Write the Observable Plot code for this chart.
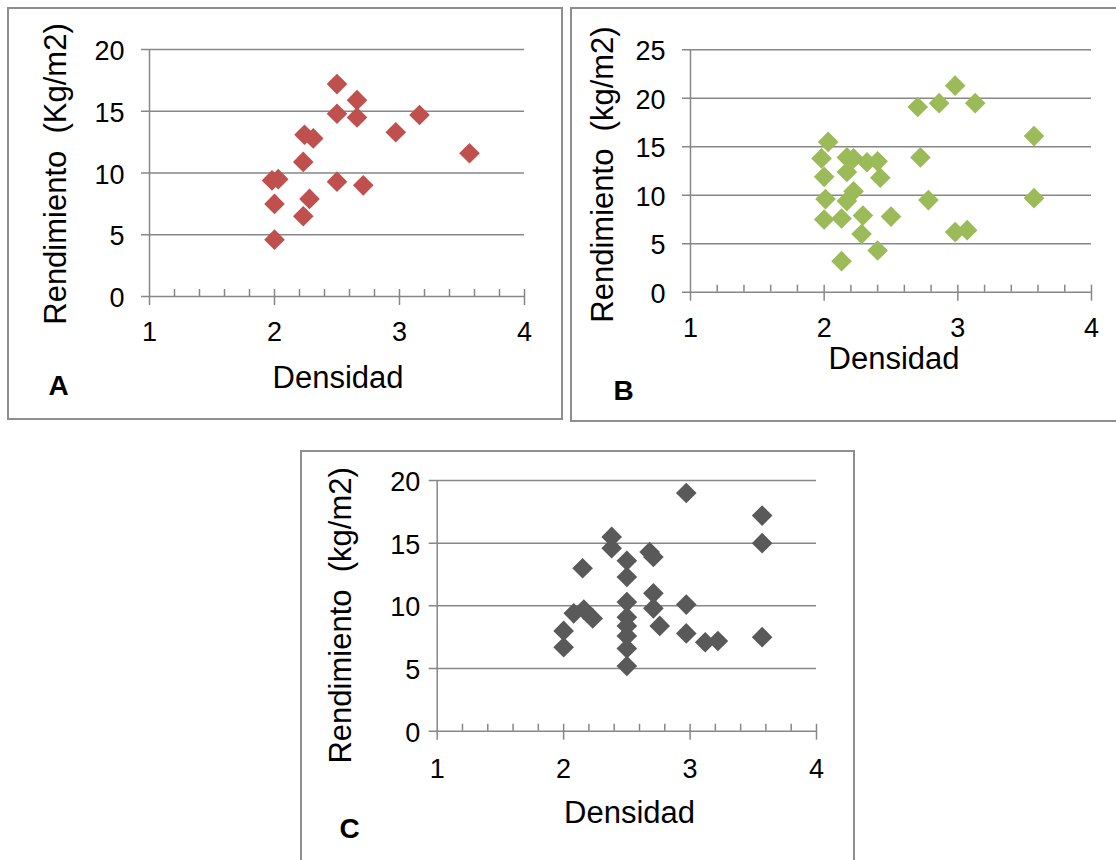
<!DOCTYPE html>
<html><head><meta charset="utf-8">
<script src="https://cdn.jsdelivr.net/npm/d3@7"></script>
<script src="https://cdn.jsdelivr.net/npm/@observablehq/plot@0.6"></script>
<style>
body{margin:0;background:#fff;}
#page{position:relative;width:1116px;height:860px;overflow:hidden;font-family:"Liberation Sans",Arial,sans-serif;}
.frame{position:absolute;box-sizing:border-box;border:2px solid #8e8e8e;}
.panel{position:absolute;}
</style></head><body><div id="page"></div>
<script>
// ---- Data ----
const densA = [2.50, 2.66, 2.50, 2.66, 3.16, 2.97, 2.24, 2.31, 3.56, 2.23, 1.98, 2.03, 2.50, 2.71, 2.00, 2.28, 2.23, 2.00];
const rendA = [17.2, 15.9, 14.8, 14.5, 14.7, 13.3, 13.1, 12.8, 11.6, 10.9, 9.4, 9.5, 9.3, 9.0, 7.5, 7.9, 6.5, 4.6];

const densB = [2.98, 2.70, 2.86, 3.13, 3.57, 2.03, 1.98, 2.17, 2.22, 2.32, 2.40, 2.17, 2.00, 2.42, 2.72, 2.22, 2.01, 2.17, 2.78, 3.57, 2.00, 2.13, 2.29, 2.50, 2.28, 2.98, 3.07, 2.40, 2.13];
const rendB = [21.3, 19.1, 19.5, 19.5, 16.1, 15.5, 13.8, 13.9, 13.8, 13.4, 13.5, 12.4, 11.9, 11.8, 13.9, 10.4, 9.6, 9.4, 9.5, 9.7, 7.5, 7.6, 7.9, 7.8, 6.0, 6.2, 6.4, 4.3, 3.2];

const densC = [2.97, 3.57, 3.57, 2.38, 2.38, 2.68, 2.71, 2.50, 2.50, 2.15, 2.71, 2.71, 2.97, 2.50, 2.08, 2.16, 2.23, 2.50, 2.50, 2.50, 2.50, 2.50, 2.76, 2.00, 2.00, 2.97, 3.12, 3.22, 3.57];
const rendC = [19.0, 17.2, 15.0, 15.5, 14.6, 14.3, 13.9, 13.6, 12.3, 13.0, 11.0, 9.8, 10.1, 10.3, 9.4, 9.7, 9.0, 9.1, 8.4, 7.6, 6.6, 5.2, 8.4, 8.0, 6.7, 7.8, 7.1, 7.2, 7.5];

const xTicks = [1, 2, 3, 4];
const xMinor = [1.2, 1.4, 1.6, 1.8, 2.2, 2.4, 2.6, 2.8, 3.2, 3.4, 3.6, 3.8];
const yTicksA = [0, 5, 10, 15, 20];
const yTicksB = [0, 5, 10, 15, 20, 25];
const yTicksC = [0, 5, 10, 15, 20];
const xTitle = "Densidad";
const yTitleA = "Rendimiento\u00a0 (Kg/m2)";
const yTitleB = "Rendimiento\u00a0 (kg/m2)";
const yTitleC = "Rendimiento\u00a0 (kg/m2)";
const letters = ["A", "B", "C"];

// ---- Drawing ----
const GRID = "#878787";
const FONT = "'Liberation Sans', Arial, sans-serif";
const TICK_FS = 27, TITLE_FS = 31;
const page = document.getElementById("page");

function panel(c) {
  const frame = document.createElement("div");
  frame.className = "frame";
  Object.assign(frame.style, {left: c.left + "px", top: c.top + "px", width: c.width + "px", height: c.height + "px"});
  page.appendChild(frame);

  const ph = c.height - c.mT - c.mB;
  const data = c.dens.map((d, i) => ({d, r: c.rend[i]}));
  const chart = Plot.plot({
    width: c.width, height: c.height,
    marginLeft: c.mL, marginRight: c.mR, marginTop: c.mT, marginBottom: c.mB,
    x: {domain: [1, 4]},
    y: {domain: [0, c.yMax]},
    style: {fontFamily: FONT, background: "transparent", overflow: "visible", color: "#000"},
    marks: [
      Plot.tickY(c.yTicks, {y: d => d, stroke: GRID, strokeWidth: 1.5, insetLeft: -8}),
      Plot.tickX([1], {x: d => d, stroke: GRID, strokeWidth: 1.5, insetBottom: -9}),
      Plot.tickX(xTicks.slice(1), {x: d => d, stroke: GRID, strokeWidth: 1.5, insetTop: ph - 7, insetBottom: -9}),
      Plot.tickX(xMinor, {x: d => d, stroke: GRID, strokeWidth: 1.5, insetTop: ph - 7}),
      Plot.axisY({ticks: c.yTicks, tickSize: 0, tickPadding: c.yPad, fontSize: TICK_FS, dy: 2, label: null, tickFormat: d3.format("d")}),
      Plot.axisX({ticks: xTicks, tickSize: 0, tickPadding: c.xPad, fontSize: TICK_FS, label: null, tickFormat: d3.format("d")}),
      Plot.dot(data, {x: "d", y: "r", symbol: "diamond2", r: 9.3, fill: c.color, stroke: "none"}),
      Plot.text([c.yTitle], {text: d => d, frameAnchor: "left", textAnchor: "middle", lineAnchor: "middle", rotate: -90, dx: c.ytDx, dy: c.ytDy, fontSize: TITLE_FS}),
      Plot.text([xTitle], {text: d => d, frameAnchor: "bottom", textAnchor: "middle", lineAnchor: "middle", dx: c.xtDx, dy: c.xtDy, fontSize: TITLE_FS}),
      Plot.text([c.letter], {text: d => d, frameAnchor: "bottom-left", textAnchor: "start", lineAnchor: "middle", dx: c.lDx, dy: c.lDy, fontSize: 28, fontWeight: "bold"})
    ]
  });
  chart.classList.add("panel");
  chart.style.left = c.left + "px";
  chart.style.top = c.top + "px";
  page.appendChild(chart);
}

panel({left: 7, top: 7, width: 556, height: 413, mL: 142, mR: 39, mT: 42, mB: 124,
  yMax: 20, yTicks: yTicksA, dens: densA, rend: rendA, color: "#C0504D",
  yTitle: yTitleA, letter: letters[0], yPad: 25, xPad: 25,
  ytDx: -93.3, ytDy: 1, xtDx: 1, xtDy: 82, lDx: -101, lDy: 90});

panel({left: 570, top: 7, width: 560, height: 415, mL: 120, mR: 39, mT: 42.3, mB: 130.3,
  yMax: 25, yTicks: yTicksB, dens: densB, rend: rendB, color: "#9BBB59",
  yTitle: yTitleB, letter: letters[1], yPad: 25, xPad: 26,
  ytDx: -87, ytDy: 3.5, xtDx: 3, xtDy: 67.3, lDx: -77, lDy: 99.3});

panel({left: 300, top: 450, width: 555, height: 420, mL: 136.7, mR: 39, mT: 30, mB: 139.3,
  yMax: 20, yTicks: yTicksC, dens: densC, rend: rendC, color: "#595959",
  yTitle: yTitleC, letter: letters[2], yPad: 17, xPad: 28,
  ytDx: -96.2, ytDy: 9.5, xtDx: 2.7, xtDy: 82, lDx: -97.7, lDy: 98.3});
</script>
</body></html>
